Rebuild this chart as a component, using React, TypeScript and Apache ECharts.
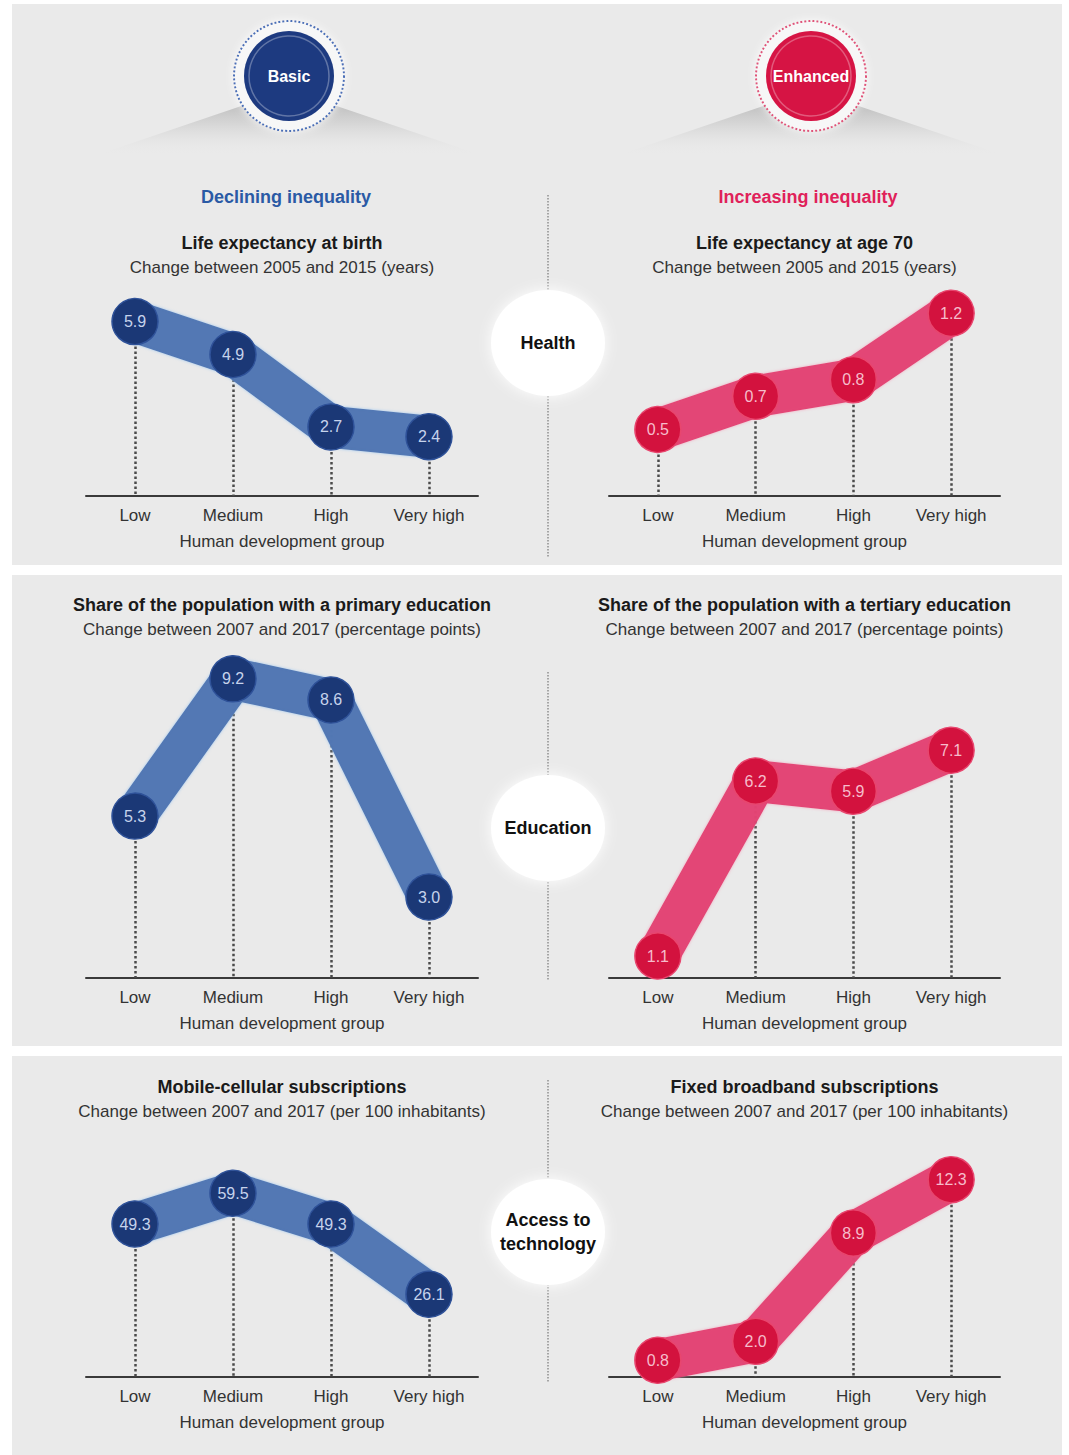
import React, { useEffect, useRef } from "react";
import * as echarts from "echarts";

const CATEGORIES = ["Low", "Medium", "High", "Very high"];
const AXIS_NAME = "Human development group";

const HEALTH_BASIC = [5.9, 4.9, 2.7, 2.4];
const HEALTH_ENHANCED = [0.5, 0.7, 0.8, 1.2];
const EDU_BASIC = [5.3, 9.2, 8.6, 3.0];
const EDU_ENHANCED = [1.1, 6.2, 5.9, 7.1];
const TECH_BASIC = [49.3, 59.5, 49.3, 26.1];
const TECH_ENHANCED = [0.8, 2.0, 8.9, 12.3];

const TITLES = [
  "Life expectancy at birth",
  "Life expectancy at age 70",
  "Share of the population with a primary education",
  "Share of the population with a tertiary education",
  "Mobile-cellular subscriptions",
  "Fixed broadband subscriptions",
];
const SUBTITLES = [
  "Change between 2005 and 2015 (years)",
  "Change between 2005 and 2015 (years)",
  "Change between 2007 and 2017 (percentage points)",
  "Change between 2007 and 2017 (percentage points)",
  "Change between 2007 and 2017 (per 100 inhabitants)",
  "Change between 2007 and 2017 (per 100 inhabitants)",
];
const DIMENSIONS = ["Health", "Education", "Access to\ntechnology"];
const BADGES = ["Basic", "Enhanced"];
const HEADERS = ["Declining inequality", "Increasing inequality"];

const FONT = '"Liberation Sans", Arial, sans-serif';

const BLUE = { marker: "#1b3876", band: "rgba(76,114,176,0.95)", glow: "rgba(150,195,240,0.9)", label: "#c6d3ec", border: "#2f5299" };
const PINK = { marker: "#d3123e", band: "rgba(226,56,110,0.92)", glow: "rgba(245,150,180,0.8)", label: "#f6bccb", border: "#e8466e" };

// layout per chart
const CHARTS = [
  { data: HEALTH_BASIC, pal: BLUE, left: 86, width: 392, top: 290, height: 206, min: 0.6, max: 6.86, titleY: 243 },
  { data: HEALTH_ENHANCED, pal: PINK, left: 609, width: 391, top: 290, height: 206, min: 0.1, max: 1.34, titleY: 243 },
  { data: EDU_BASIC, pal: BLUE, left: 86, width: 392, top: 650, height: 328, min: 0.7, max: 10.02, titleY: 605 },
  { data: EDU_ENHANCED, pal: PINK, left: 609, width: 391, top: 650, height: 328, min: 0.46, max: 10.02, titleY: 605 },
  { data: TECH_BASIC, pal: BLUE, left: 86, width: 392, top: 1150, height: 227, min: -1.3, max: 73.8, titleY: 1087 },
  { data: TECH_ENHANCED, pal: PINK, left: 609, width: 391, top: 1150, height: 227, min: -0.27, max: 14.19, titleY: 1087 },
];

function text(x: number, y: number, t: string, size: number, weight: string, fill: string, extra: any = {}) {
  return {
    type: "text",
    x,
    y,
    z: 10,
    style: {
      text: t,
      fill,
      fontSize: size,
      fontWeight: weight,
      fontFamily: FONT,
      align: "center",
      verticalAlign: "middle",
      textAlign: "center",
      textVerticalAlign: "middle",
      lineHeight: size + 6,
      ...extra,
    },
  };
}

function buildOption() {
  const grid: any[] = [];
  const xAxis: any[] = [];
  const yAxis: any[] = [];
  const series: any[] = [];
  const graphic: any[] = [];

  // panel backgrounds
  const panels = [
    [4, 565],
    [575, 1046],
    [1056, 1455],
  ];
  panels.forEach(([y0, y1]) => {
    graphic.push({ type: "rect", z: 0, shape: { x: 12, y: y0, width: 1050, height: y1 - y0 }, style: { fill: "#eaeaea" } });
  });

  // tents and badges
  const badgeX = [289, 811];
  const badgeCol = ["#1d3a80", "#d61444"];
  const ringCol = ["#4a6fb8", "#e0527a"];
  badgeX.forEach((cx, i) => {
    graphic.push({
      type: "polygon",
      z: 1,
      shape: { points: [[cx - 195, 156], [cx - 30, 100], [cx, 92], [cx + 30, 100], [cx + 195, 156]] },
      style: {
        fill: new echarts.graphic.LinearGradient(0, 0, 0, 1, [
          { offset: 0, color: "rgba(150,150,150,0.75)" },
          { offset: 0.5, color: "rgba(190,190,190,0.45)" },
          { offset: 1, color: "rgba(234,234,234,0)" },
        ]),
      },
    });
    graphic.push({
      type: "circle",
      z: 2,
      shape: { cx, cy: 76, r: 55 },
      style: { fill: "#f7f7f7", stroke: ringCol[i], lineWidth: 2, lineDash: [2, 2], shadowBlur: 8, shadowColor: "rgba(255,255,255,0.9)" },
    });
    graphic.push({ type: "circle", z: 3, shape: { cx, cy: 76, r: 45 }, style: { fill: badgeCol[i] } });
    graphic.push({ type: "circle", z: 4, shape: { cx, cy: 76, r: 40 }, style: { fill: "none", stroke: "rgba(255,255,255,0.3)", lineWidth: 1.5 } });
    graphic.push(text(cx, 76, BADGES[i], 16, "bold", "#ffffff"));
  });

  graphic.push(text(286, 197, HEADERS[0], 18, "bold", "#2a5aa5"));
  graphic.push(text(808, 197, HEADERS[1], 18, "bold", "#e0215a"));

  // center dividers and circles
  const dividers = [
    [195, 557],
    [672, 980],
    [1080, 1382],
  ];
  const centerY = [343, 828, 1232];
  dividers.forEach(([y0, y1], i) => {
    graphic.push({ type: "line", z: 1, shape: { x1: 548, y1: y0, x2: 548, y2: y1 }, style: { stroke: "#8f8f8f", lineWidth: 1.5, lineDash: [1.5, 1.5] } });
    graphic.push({
      type: "ellipse",
      z: 2,
      shape: { cx: 548, cy: centerY[i], rx: 57, ry: 53 },
      style: { fill: "#ffffff", shadowBlur: 14, shadowColor: "rgba(255,255,255,1)" },
    });
    graphic.push(text(548, centerY[i], DIMENSIONS[i], 18, "bold", "#111111", { lineHeight: 24 }));
  });

  CHARTS.forEach((c, i) => {
    const cx = c.left + c.width / 2;
    graphic.push(text(cx, c.titleY, TITLES[i], 18, "bold", "#1a1a1a"));
    graphic.push(text(cx, c.titleY + 24, SUBTITLES[i], 17, "normal", "#333333"));

    grid.push({ left: c.left, top: c.top, width: c.width, height: c.height, containLabel: false });
    xAxis.push({
      type: "category",
      gridIndex: i,
      data: CATEGORIES,
      boundaryGap: true,
      axisLine: { onZero: false, lineStyle: { color: "#3a3a3a", width: 2 } },
      axisTick: { show: false },
      splitLine: { show: false },
      axisLabel: { color: "#333333", fontSize: 17, fontFamily: FONT, margin: 11 },
      name: AXIS_NAME,
      nameLocation: "middle",
      nameGap: 37,
      nameTextStyle: { color: "#333333", fontSize: 17, fontFamily: FONT },
    });
    yAxis.push({ type: "value", gridIndex: i, min: c.min, max: c.max, show: false, splitLine: { show: false } });

    // dotted drop lines
    series.push({
      type: "line",
      xAxisIndex: i,
      yAxisIndex: i,
      data: [],
      z: 1,
      silent: true,
      markLine: {
        z: 1,
        silent: true,
        symbol: "none",
        label: { show: false },
        lineStyle: { type: "dotted", color: "#4a4a4a", width: 2.5 },
        data: c.data.map((v, k) => [{ coord: [CATEGORIES[k], v] }, { coord: [CATEGORIES[k], c.min] }]),
      },
    });

    // band + markers
    series.push({
      type: "line",
      xAxisIndex: i,
      yAxisIndex: i,
      data: c.data,
      z: 3,
      clip: false,
      symbol: "circle",
      symbolSize: 46,
      showAllSymbol: true,
      lineStyle: {
        width: 42,
        color: c.pal.band,
        join: "round",
        cap: "butt",
        shadowBlur: 3,
        shadowColor: c.pal.glow,
      },
      itemStyle: { color: c.pal.marker, borderColor: c.pal.border, borderWidth: 1.5, opacity: 1 },
      label: {
        show: true,
        position: "inside",
        color: c.pal.label,
        fontSize: 16,
        fontFamily: FONT,
        formatter: (p: any) => Number(p.value).toFixed(1),
      },
      emphasis: { disabled: true },
    });
  });

  return {
    animation: false,
    backgroundColor: "#ffffff",
    grid,
    xAxis,
    yAxis,
    series,
    graphic: { elements: graphic },
  };
}

export default function App() {
  const ref = useRef<HTMLDivElement>(null);
  useEffect(() => {
    document.body.style.margin = "0";
    const chart = echarts.init(ref.current as HTMLDivElement, null, { renderer: "svg", width: 1069, height: 1455 });
    chart.setOption(buildOption() as any);
    return () => chart.dispose();
  }, []);
  return <div ref={ref} style={{ width: 1069, height: 1455 }} />;
}
